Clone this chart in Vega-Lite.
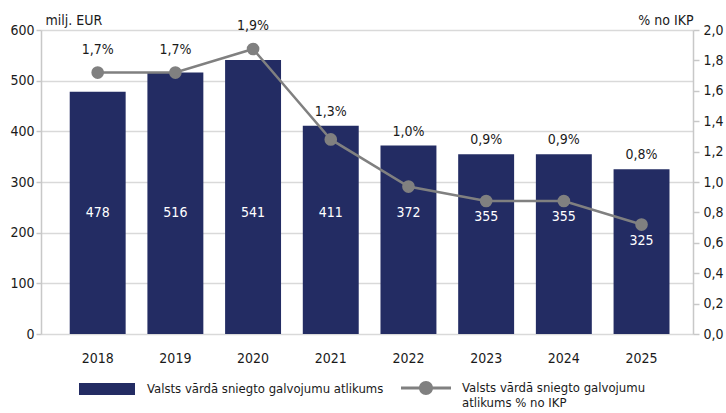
{
  "$schema": "https://vega.github.io/schema/vega-lite/v6.json",
  "width": 652,
  "height": 304,
  "autosize": {"type": "none"},
  "padding": {"left": 41, "top": 30, "right": 33, "bottom": 79},
  "config": {
    "font": "DejaVu Sans Condensed, Liberation Sans Narrow, sans-serif",
    "view": {"stroke": null},
    "text": {"font": "DejaVu Sans Condensed, Liberation Sans Narrow, sans-serif"},
    "axis": {"labelFont": "DejaVu Sans Condensed, Liberation Sans Narrow, sans-serif", "titleFont": "DejaVu Sans Condensed, Liberation Sans Narrow, sans-serif"},
    "legend": {"labelFont": "DejaVu Sans Condensed, Liberation Sans Narrow, sans-serif"}
  },
  "data": {
    "values": [
      {"year": "2018", "value": 478, "pct": 1.72, "pctLabel": "1,7%"},
      {"year": "2019", "value": 516, "pct": 1.72, "pctLabel": "1,7%"},
      {"year": "2020", "value": 541, "pct": 1.875, "pctLabel": "1,9%"},
      {"year": "2021", "value": 411, "pct": 1.28, "pctLabel": "1,3%"},
      {"year": "2022", "value": 372, "pct": 0.97, "pctLabel": "1,0%"},
      {"year": "2023", "value": 355, "pct": 0.875, "pctLabel": "0,9%"},
      {"year": "2024", "value": 355, "pct": 0.875, "pctLabel": "0,9%"},
      {"year": "2025", "value": 325, "pct": 0.72, "pctLabel": "0,8%"}
    ]
  },
  "encoding": {
    "x": {
      "field": "year",
      "type": "ordinal",
      "scale": {"paddingInner": 0.28, "paddingOuter": 0.336, "align": 0.55},
      "axis": {
        "title": null,
        "labelAngle": 0,
        "domain": false,
        "ticks": false,
        "tickSize": 0,
        "labelPadding": 24,
        "labelBaseline": "middle",
        "labelFontSize": 14,
        "labelColor": "#1a1a1a"
      }
    }
  },
  "layer": [
    {
      "layer": [
        {
          "mark": {"type": "bar", "color": "#232C63"},
          "encoding": {
            "y": {
              "field": "value",
              "type": "quantitative",
              "scale": {"domain": [0, 600]},
              "axis": {
                "title": "milj. EUR",
                "titleAngle": 0,
                "titleAlign": "left",
                "titleBaseline": "alphabetic",
                "titleX": 4,
                "titleY": -6,
                "titleFontSize": 14,
                "titleFontWeight": "normal",
                "titleColor": "#1a1a1a",
                "values": [0, 100, 200, 300, 400, 500, 600],
                "grid": true,
                "gridColor": "#d9d9d9",
                "gridWidth": 1.5,
                "domainColor": "#c8c8c8",
                "domainWidth": 1.5,
                "tickColor": "#c8c8c8",
                "tickWidth": 1.5,
                "tickSize": 5,
                "labelPadding": 2,
                "labelFontSize": 14,
                "labelColor": "#1a1a1a"
              }
            },
            "fill": {
              "datum": "Valsts vārdā sniegto galvojumu atlikums",
              "scale": {"range": ["#232C63"]},
              "legend": {
                "orient": "none",
                "legendX": 38,
                "legendY": 331,
                "title": null,
                "padding": 0,
                "symbolType": "M-1,-0.214H1V0.214H-1Z",
                "symbolSize": 3136,
                "symbolStrokeWidth": 0,
                "symbolOpacity": 1,
                "labelFontSize": 13,
                "labelColor": "#1a1a1a",
                "labelOffset": 12,
                "labelLimit": 400
              }
            }
          }
        },
        {
          "transform": [{"filter": "datum.pct >= 0.9"}],
          "mark": {"type": "text", "color": "white", "fontSize": 14},
          "encoding": {
            "y": {"datum": 238, "type": "quantitative"},
            "text": {"field": "value", "type": "quantitative"}
          }
        },
        {
          "transform": [{"filter": "datum.pct * 300 <= datum.value - 10"}],
          "mark": {"type": "text", "color": "#1a1a1a", "fontSize": 14, "yOffset": -14},
          "encoding": {
            "y": {"field": "value", "type": "quantitative"},
            "text": {"field": "pctLabel"}
          }
        }
      ]
    },
    {
      "encoding": {
        "y": {
          "field": "pct",
          "type": "quantitative",
          "scale": {"domain": [0, 2]},
          "axis": {
            "orient": "right",
            "title": "% no IKP",
            "titleAngle": 0,
            "titleAlign": "right",
            "titleBaseline": "alphabetic",
            "titleX": 0,
            "titleY": -6,
            "titleFontSize": 14,
            "titleFontWeight": "normal",
            "titleColor": "#1a1a1a",
            "values": [0, 0.2, 0.4, 0.6, 0.8, 1, 1.2, 1.4, 1.6, 1.8, 2],
            "labelExpr": "replace(format(datum.value, '.1f'), '.', ',')",
            "labelOverlap": false,
            "labelFlush": false,
            "grid": false,
            "domainColor": "#c8c8c8",
            "domainWidth": 1.5,
            "tickColor": "#c8c8c8",
            "tickWidth": 1.5,
            "tickSize": 6,
            "labelPadding": 4,
            "labelFontSize": 14,
            "labelColor": "#1a1a1a"
          }
        }
      },
      "layer": [
        {
          "mark": {"type": "line", "color": "#808080", "strokeWidth": 2.5},
          "encoding": {
            "stroke": {
              "datum": "Valsts vārdā sniegto galvojumu atlikums % no IKP",
              "scale": {"range": ["#808080"]},
              "legend": {
                "orient": "none",
                "legendX": 360,
                "legendY": 333,
                "title": null,
                "padding": 0,
                "symbolType": "M-1,-0.06H1V0.06H-1Z M-0.28,0A0.28,0.28 0 1 1 0.28,0A0.28,0.28 0 1 1 -0.28,0Z",
                "symbolSize": 2500,
                "symbolFillColor": "#808080",
                "symbolStrokeWidth": 0,
                "labelFontSize": 13,
                "labelColor": "#1a1a1a",
                "labelOffset": 11,
                "labelLimit": 400,
                "labelExpr": "datum.label == 'Valsts vārdā sniegto galvojumu atlikums % no IKP' ? ['Valsts vārdā sniegto galvojumu', 'atlikums % no IKP'] : datum.label"
              }
            }
          }
        },
        {
          "mark": {"type": "point", "filled": true, "color": "#808080", "size": 160, "opacity": 1},
          "encoding": {}
        },
        {
          "transform": [{"filter": "datum.pct * 300 > datum.value - 10"}],
          "mark": {"type": "text", "color": "#1a1a1a", "fontSize": 14, "yOffset": -23},
          "encoding": {
            "text": {"field": "pctLabel"}
          }
        },
        {
          "transform": [{"filter": "datum.pct < 0.9"}],
          "mark": {"type": "text", "color": "white", "fontSize": 14, "yOffset": 16},
          "encoding": {
            "text": {"field": "value", "type": "quantitative"}
          }
        }
      ]
    }
  ],
  "resolve": {"scale": {"y": "independent"}}
}
